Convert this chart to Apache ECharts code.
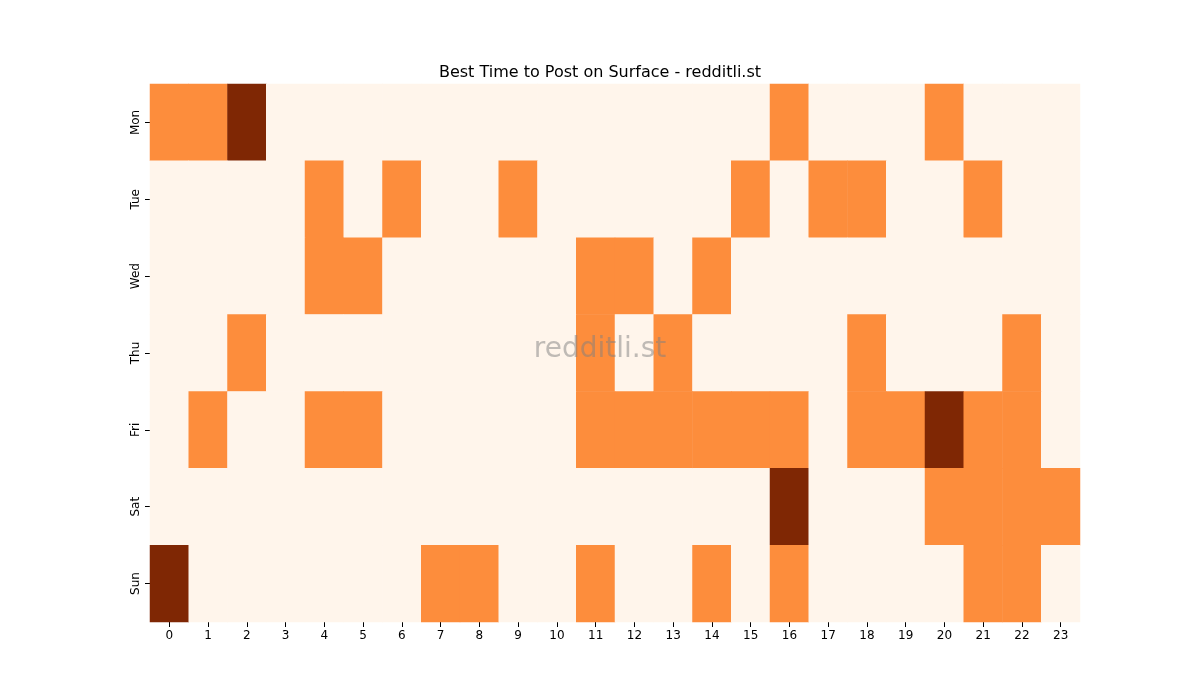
<!DOCTYPE html>
<html><head><meta charset="utf-8">
<script src="https://cdn.jsdelivr.net/npm/echarts@6/dist/echarts.min.js"></script>
<style>html,body{margin:0;padding:0;background:#fff}#c{width:1200px;height:700px}</style>
</head><body><div id="c"></div>
<script>
const hours = ["0","1","2","3","4","5","6","7","8","9","10","11","12","13","14","15","16","17","18","19","20","21","22","23"];
const days = ["Mon","Tue","Wed","Thu","Fri","Sat","Sun"];
const mon = [1,1,2,0,0,0,0,0,0,0,0,0,0,0,0,0,1,0,0,0,1,0,0,0];
const tue = [0,0,0,0,1,0,1,0,0,1,0,0,0,0,0,1,0,1,1,0,0,1,0,0];
const wed = [0,0,0,0,1,1,0,0,0,0,0,1,1,0,1,0,0,0,0,0,0,0,0,0];
const thu = [0,0,1,0,0,0,0,0,0,0,0,1,0,1,0,0,0,0,1,0,0,0,1,0];
const fri = [0,1,0,0,1,1,0,0,0,0,0,1,1,1,1,1,1,0,1,1,2,1,1,0];
const sat = [0,0,0,0,0,0,0,0,0,0,0,0,0,0,0,0,2,0,0,0,1,1,1,1];
const sun = [2,0,0,0,0,0,0,1,1,0,0,1,0,0,1,0,1,0,0,0,0,1,1,0];
const rows = [mon,tue,wed,thu,fri,sat,sun];
const data = [];
rows.forEach((r,y)=>r.forEach((v,x)=>data.push([x,y,v])));
const chart = echarts.init(document.getElementById('c'));
chart.setOption({
  animation:false,
  title:{text:'Best Time to Post on Surface - redditli.st',left:'center',top:60,textStyle:{fontFamily:'DejaVu Sans',fontSize:16,fontWeight:'normal',color:'#000'}},
  graphic:[{type:'text',left:'center',top:336,z:100,style:{text:'redditli.st',fontFamily:'DejaVu Sans',fontSize:28,fill:'rgba(128,128,128,0.5)'}}],
  grid:{left:150,right:120,top:84,bottom:78},
  xAxis:{type:'category',data:hours,axisLine:{show:false},axisTick:{show:true,alignWithLabel:true,lineStyle:{color:'#000'}},axisLabel:{color:'#000',fontFamily:'DejaVu Sans',fontSize:12},splitLine:{show:false}},
  yAxis:{type:'category',data:days,inverse:true,axisLine:{show:false},axisTick:{show:true,alignWithLabel:true,lineStyle:{color:'#000'}},axisLabel:{color:'#000',fontFamily:'DejaVu Sans',fontSize:12,rotate:90},splitLine:{show:false}},
  visualMap:{show:false,type:'piecewise',dimension:2,pieces:[{value:0,color:'#fff5eb'},{value:1,color:'#fd8d3c'},{value:2,color:'#7f2704'}]},
  series:[{type:'heatmap',data:data,itemStyle:{borderWidth:0}}]
});
</script></body></html>
